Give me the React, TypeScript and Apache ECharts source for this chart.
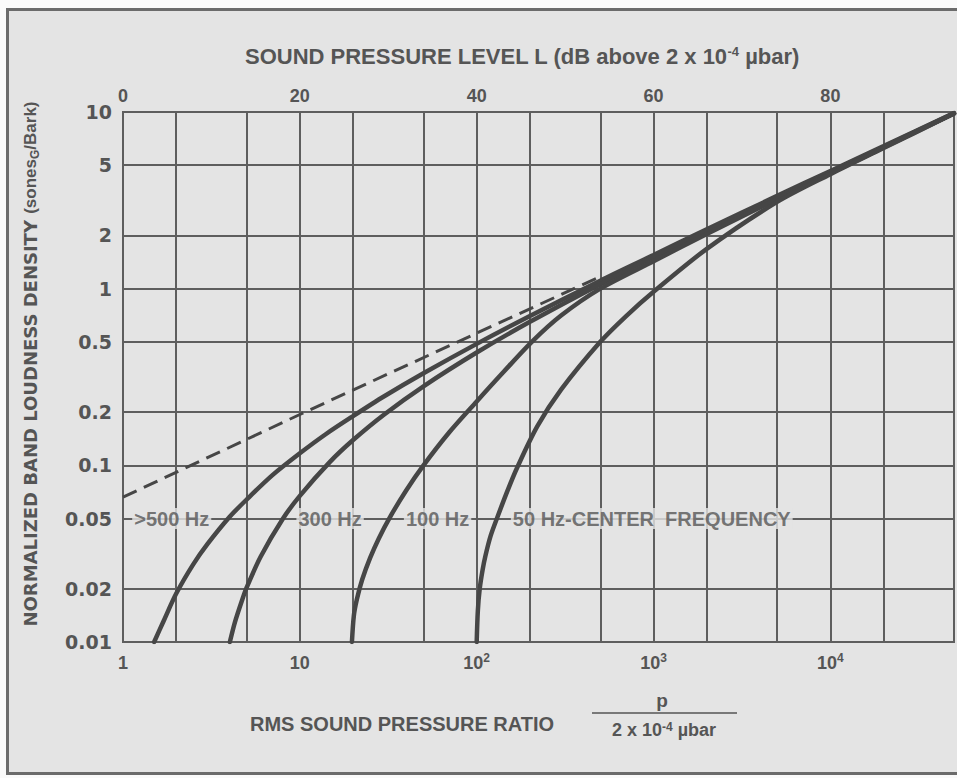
import React, { useEffect, useRef } from 'react';
import * as echarts from 'echarts';

// ---------- axis ranges and ticks ----------
const xMin = 1;
const xMax = 50000;
const yMin = 0.01;
const yMax = 10;
const xMinorLines = [2, 5, 20, 50, 200, 500, 2000, 5000, 20000];
const yMinorLines = [0.02, 0.05, 0.2, 0.5, 2, 5];
const yDecadeText = ['0.01', '0.1', '1', '10']; // exponents -2..1
const bottomTickText = ['1', '10', '10{s|2}', '10{s|3}', '10{s|4}']; // exponents 0..4
const topTickText = ['0', '20', '40', '60', '80']; // dB at exponents 0..4

// ---------- curves: [pressure ratio, loudness density] ----------
const asymptote = [[1, 0.066], [10, 0.194], [100, 0.56], [500, 1.17]];
const band500 = [
  [1.5, 0.01], [1.7, 0.0132], [2, 0.0188], [2.5, 0.0276], [3, 0.0358], [4, 0.051], [5, 0.064],
  [7, 0.088], [10, 0.117], [14, 0.15], [20, 0.19], [30, 0.246], [50, 0.332], [100, 0.487],
  [200, 0.7], [500, 1.11], [1000, 1.55], [2000, 2.17], [5000, 3.35], [10000, 4.64], [20000, 6.41], [50000, 9.85],
];
const band300 = [
  [4.02, 0.01], [4.3, 0.013], [4.7, 0.0171], [5, 0.0203], [6, 0.0304], [8, 0.0497], [10, 0.0672],
  [14.8, 0.1046], [20, 0.139], [30, 0.194], [50, 0.28], [100, 0.435], [200, 0.649], [500, 1.06],
  [1000, 1.51], [2000, 2.12], [5000, 3.3], [10000, 4.59], [20000, 6.36], [50000, 9.82],
];
const band100 = [
  [19.7, 0.01], [20.2, 0.0141], [21, 0.0174], [22.5, 0.0225], [25, 0.03], [28, 0.0387], [32, 0.05],
  [40, 0.0723], [50, 0.1], [70, 0.154], [100, 0.23], [140, 0.333], [205, 0.5], [300, 0.704],
  [500, 1.0], [1000, 1.43], [2000, 2.04], [5000, 3.22], [10000, 4.5], [20000, 6.3], [50000, 9.8],
];
const band50 = [
  [100, 0.01], [101.5, 0.015], [104, 0.02], [108, 0.0256], [112, 0.0307], [120, 0.04], [132, 0.052],
  [150, 0.0726], [169, 0.0966], [220, 0.166], [300, 0.268], [500, 0.5], [700, 0.7], [1000, 0.96],
  [2000, 1.68], [5000, 3.1], [10000, 4.45], [20000, 6.25], [50000, 9.8],
];

// labels sitting on the 0.05 grid line: [start pressure ratio, text]
const labelRowY = 0.05;
const freqLabelX = [1.12, 9.5, 38.5, 155];
const freqLabelText = ['>500 Hz', '300 Hz', '100 Hz', '50 Hz-CENTER  FREQUENCY'];

// ---------- styles ----------
const PAPER = '#e4e4e4';
const GRID = '#5e5e5e';
const INK = '#464646';
const TEXT = '#555555';
const FONT_WIDE = '"DejaVu Sans", "Noto Sans", sans-serif';
const FONT_NARROW = '"Liberation Sans Narrow", "Liberation Sans", Arial, sans-serif';
const FONT_SANS = '"Liberation Sans", Arial, sans-serif';

const expOf = (v: number) => Math.round(Math.log10(v));
const isDecade = (v: number) => Math.abs(Math.log10(v) - expOf(v)) < 1e-6;

function curveSeries(name: string, data: number[][]) {
  return {
    name,
    type: 'line',
    xAxisIndex: 0,
    yAxisIndex: 0,
    data,
    showSymbol: false,
    symbol: 'none',
    smooth: 0.3,
    z: 10,
    silent: true,
    lineStyle: { color: INK, width: 4.5, cap: 'round' },
  };
}

function buildOption() {
  const gridStyle = { color: GRID, width: 2, type: 'solid' };
  const markData: any[] = [
    ...xMinorLines.map((v) => ({ xAxis: v, label: { show: false } })),
    ...yMinorLines.map((v) => ({ yAxis: v, label: { show: true, formatter: String(v) } })),
  ];
  return {
    animation: false,
    backgroundColor: 'transparent',
    grid: {
      left: 123, top: 112, width: 831, height: 530,
      show: true, borderColor: GRID, borderWidth: 2, backgroundColor: 'transparent',
    },
    xAxis: [
      {
        type: 'log', logBase: 10, min: xMin, max: xMax, position: 'bottom',
        axisLine: { show: false }, axisTick: { show: false },
        splitLine: { show: true, lineStyle: gridStyle },
        axisLabel: {
          margin: 10, showMinLabel: true, showMaxLabel: false,
          color: TEXT, fontFamily: FONT_NARROW, fontWeight: 'bold', fontSize: 18, lineHeight: 22,
          formatter: (v: number) => (isDecade(v) && expOf(v) <= 4 ? bottomTickText[expOf(v)] : ''),
          rich: {
            s: { fontFamily: FONT_NARROW, fontWeight: 'bold', fontSize: 12, lineHeight: 12, verticalAlign: 'top', color: TEXT },
          },
        },
      },
      {
        type: 'log', logBase: 10, min: xMin, max: xMax, position: 'top',
        axisLine: { show: false }, axisTick: { show: false }, splitLine: { show: false },
        axisLabel: {
          margin: 7, showMinLabel: true, showMaxLabel: false,
          color: TEXT, fontFamily: FONT_NARROW, fontWeight: 'bold', fontSize: 18,
          formatter: (v: number) => (isDecade(v) && expOf(v) <= 4 ? topTickText[expOf(v)] : ''),
        },
      },
    ],
    yAxis: [
      {
        type: 'log', logBase: 10, min: yMin, max: yMax,
        axisLine: { show: false }, axisTick: { show: false },
        splitLine: { show: true, lineStyle: gridStyle },
        axisLabel: {
          margin: 11, showMinLabel: true, showMaxLabel: true,
          color: TEXT, fontFamily: FONT_WIDE, fontWeight: 'bold', fontSize: 19,
          formatter: (v: number) => (isDecade(v) ? yDecadeText[expOf(v) + 2] : ''),
        },
      },
    ],
    series: [
      {
        name: 'asymptote',
        type: 'line',
        data: asymptote,
        showSymbol: false,
        symbol: 'none',
        z: 10,
        silent: true,
        lineStyle: { color: INK, width: 3, type: [15, 8] },
        markLine: {
          silent: true,
          z: 5,
          animation: false,
          symbol: ['none', 'none'],
          lineStyle: gridStyle,
          label: {
            position: 'start', distance: 11,
            color: TEXT, fontFamily: FONT_WIDE, fontWeight: 'bold', fontSize: 19,
          },
          emphasis: { disabled: true },
          data: markData,
        },
      },
      curveSeries('>500 Hz', band500),
      curveSeries('300 Hz', band300),
      curveSeries('100 Hz', band100),
      curveSeries('50 Hz', band50),
      {
        name: 'labels',
        type: 'scatter',
        symbolSize: 1,
        z: 8,
        silent: true,
        itemStyle: { color: 'rgba(0,0,0,0)' },
        data: freqLabelX.map((x, i) => ({
          value: [x, labelRowY],
          label: { formatter: freqLabelText[i] },
        })),
        label: {
          show: true, position: 'right', distance: 0,
          color: TEXT, fontFamily: FONT_SANS, fontWeight: 'bold', fontSize: 20,
          backgroundColor: PAPER, padding: [1, 2, 0, 2],
        },
      },
    ],
    graphic: [
      {
        type: 'text', x: 522, y: 56, silent: true,
        style: {
          text: 'SOUND PRESSURE LEVEL L (dB above 2 x 10{sup|-4} µbar)',
          fill: TEXT, font: `bold 22px ${FONT_SANS}`, align: 'center', verticalAlign: 'middle',
          rich: { sup: { fontSize: 13, fontWeight: 'bold', lineHeight: 12, verticalAlign: 'top', fill: TEXT, fontFamily: FONT_SANS } },
        },
      },
      {
        type: 'text', x: 30, y: 364, rotation: Math.PI / 2, silent: true,
        style: {
          text: 'NORMALIZED BAND LOUDNESS DENSITY {p|(sones}{g|G}{p|/Bark)}',
          fill: TEXT, font: `bold 18px ${FONT_WIDE}`, align: 'center', verticalAlign: 'middle',
          rich: {
            p: { fontFamily: FONT_SANS, fontWeight: 'bold', fontSize: 17, lineHeight: 22, verticalAlign: 'middle', fill: TEXT },
            g: { fontFamily: FONT_SANS, fontWeight: 'bold', fontSize: 12, lineHeight: 12, verticalAlign: 'bottom', fill: TEXT },
          },
        },
      },
      {
        type: 'text', x: 250, y: 724, silent: true,
        style: {
          text: 'RMS SOUND PRESSURE RATIO', fill: TEXT, font: `bold 20px ${FONT_SANS}`,
          align: 'left', verticalAlign: 'middle',
        },
      },
      {
        type: 'text', x: 662, y: 700, silent: true,
        style: { text: 'p', fill: TEXT, font: `bold 19px ${FONT_SANS}`, align: 'center', verticalAlign: 'middle' },
      },
      {
        type: 'line', silent: true,
        shape: { x1: 592, y1: 713, x2: 737, y2: 713 },
        style: { stroke: TEXT, lineWidth: 1.5 },
      },
      {
        type: 'text', x: 664, y: 730, silent: true,
        style: {
          text: '2 x 10{sup|-4} µbar', fill: TEXT, font: `bold 18px ${FONT_SANS}`,
          align: 'center', verticalAlign: 'middle',
          rich: { sup: { fontSize: 12, fontWeight: 'bold', lineHeight: 12, verticalAlign: 'top', fill: TEXT, fontFamily: FONT_SANS } },
        },
      },
    ],
  };
}

export default function App() {
  const ref = useRef<HTMLDivElement>(null);
  useEffect(() => {
    if (!ref.current) return;
    const chart = echarts.init(ref.current, undefined, { renderer: 'svg' });
    chart.setOption(buildOption() as any);
    return () => chart.dispose();
  }, []);
  return (
    <div style={{ position: 'fixed', left: 0, top: 0, width: 957, height: 778, background: '#fafafa', overflow: 'hidden' }}>
      <div
        style={{
          position: 'absolute', left: 6, top: 8, width: 990, height: 767,
          background: PAPER, border: '3px solid #6b6b6b', boxSizing: 'border-box',
        }}
      />
      <div ref={ref} style={{ position: 'absolute', left: 0, top: 0, width: 957, height: 778 }} />
    </div>
  );
}
